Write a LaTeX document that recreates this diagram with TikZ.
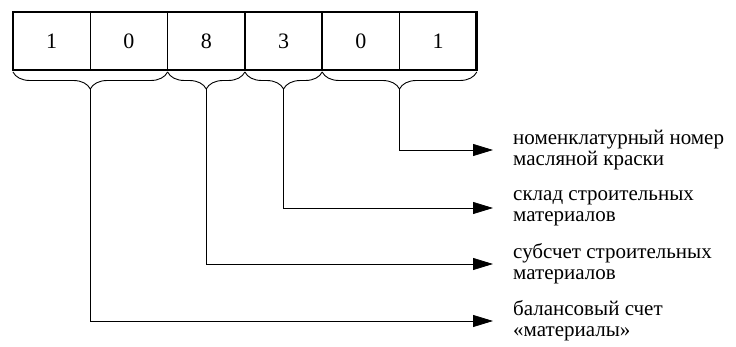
\documentclass[tikz,border=0pt]{standalone}
\usepackage{fontspec}
\setmainfont{Liberation Serif}
\usetikzlibrary{arrows.meta, positioning, calc, decorations.pathreplacing}

\begin{document}
\begin{tikzpicture}[
    x=1pt, y=-1pt,
    cell/.style={draw, line width=1.6pt, minimum width=77.3pt, minimum height=58pt, inner sep=0pt, outer sep=0pt, font=\fontsize{22}{22}\selectfont},
    grp/.style={decorate, decoration={brace, mirror, amplitude=17pt, raise=2pt}, line width=0.9pt},
    link/.style={-{Triangle[length=20pt, width=12pt]}, line width=0.8pt, shorten >=18pt},
    note/.style={anchor=west, align=left, inner sep=2pt, font=\fontsize{21}{21}\selectfont}
  ]
    \useasboundingbox (0,0) rectangle (736,347);

    % code cells
    \node[cell] (c1) at (51.65,41) {1};
    \node[cell, right=0pt of c1] (c2) {0};
    \node[cell, right=0pt of c2] (c3) {8};
    \node[cell, right=0pt of c3] (c4) {3};
    \node[cell, right=0pt of c4] (c5) {0};
    \node[cell, right=0pt of c5] (c6) {1};
    \draw[line width=2.8pt] (c1.north west) rectangle (c6.south east);

    % braces under the groups
    \draw[grp] (c1.south west) -- (c2.south east);
    \draw[grp] (c3.south west) -- (c3.south east);
    \draw[grp] (c4.south west) -- (c4.south east);
    \draw[grp] (c5.south west) -- (c6.south east);
    \coordinate (t1) at ($(c1.south west)!0.5!(c2.south east) + (0,19)$);
    \coordinate (t2) at ($(c3.south) + (0,19)$);
    \coordinate (t3) at ($(c4.south) + (0,19)$);
    \coordinate (t4) at ($(c5.south west)!0.5!(c6.south east) + (0,19)$);

    % meanings
    \node[note] (n1) at (511,150) {номенклатурный номер\\масляной краски};
    \node[note] (n2) at (511,208) {склад строительных\\материалов};
    \node[note] (n3) at (511,264) {субсчет строительных\\материалов};
    \node[note] (n4) at (511,321) {балансовый счет\\«материалы»};

    \draw[link] (t4) |- (n1.west);
    \draw[link] (t3) |- (n2.west);
    \draw[link] (t2) |- (n3.west);
    \draw[link] (t1) |- (n4.west);
  \end{tikzpicture}
\end{document}
